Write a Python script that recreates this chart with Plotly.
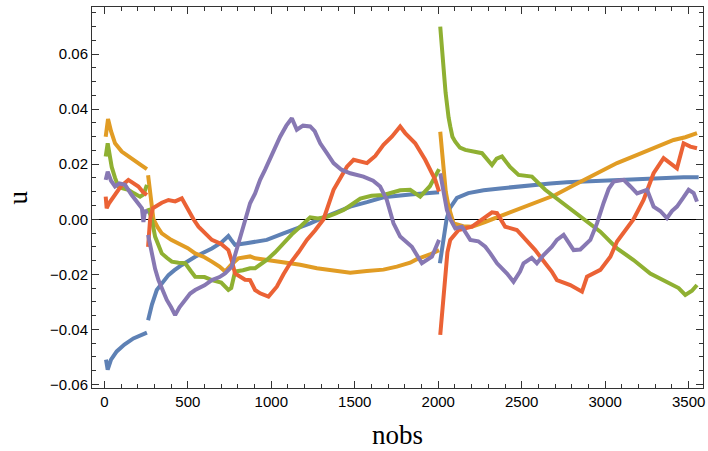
import plotly.graph_objects as go

# ---- data (None separates restart segments) ----
n_blue = [10, 20, 40, 74, 120, 174, 255, None,
          262, 285, 314, 350, 384, 420, 464, 544, 644, 700, 743, 760, 783, 850, 903, 973,
          1073, 1150, 1233, 1300, 1373, 1473, 1573, 1672, 1832, 1920, 2005, None,
          2010, 2030, 2050, 2070, 2112, 2180, 2272, 2370, 2471, 2571, 2671, 2770, 2870, 2970,
          3071, 3170, 3270, 3370, 3470, 3560]
u_blue = [-0.051, -0.0546, -0.051, -0.048, -0.0455, -0.0433, -0.0412, None,
          -0.0367, -0.031, -0.0257, -0.023, -0.0203, -0.0185, -0.0166, -0.0136, -0.0106, -0.0085,
          -0.0061, -0.0075, -0.0093, -0.0087, -0.0081, -0.0075,
          -0.0051, -0.0035, -0.0015, 0.0003, 0.0022, 0.0046, 0.0062, 0.0080, 0.0090, 0.0094, 0.0098, None,
          -0.016, -0.008, 0.0, 0.004, 0.0078, 0.0095, 0.0105, 0.0112, 0.0119, 0.0125, 0.0130, 0.0134,
          0.0137, 0.0140, 0.0143, 0.0146, 0.0149, 0.0151, 0.0153, 0.0153]

n_orange = [8, 15, 22, 40, 64, 104, 150, 184, 220, 255, None,
            262, 274, 294, 320, 344, 400, 444, 500, 544, 600, 644, 690, 723, 760, 803, 873, 903,
            973, 1073, 1173, 1273, 1373, 1473, 1572, 1672, 1752, 1832, 1872, 1950, 2005, None,
            2012, 2022, 2032, 2045, 2062, 2092, 2150, 2202, 2280, 2361, 2430, 2501, 2600, 2701,
            2800, 2871, 2970, 3071, 3170, 3270, 3340, 3410, 3480, 3550]
u_orange = [0.030, 0.0345, 0.0364, 0.032, 0.0276, 0.0246, 0.0225, 0.0210, 0.0197, 0.0182, None,
            0.016, 0.0107, 0.0, -0.003, -0.0051, -0.0075, -0.0087, -0.0105, -0.0124, -0.0138,
            -0.0154, -0.0172, -0.0190, -0.0165, -0.0142, -0.0135, -0.0142,
            -0.0148, -0.0154, -0.0165, -0.0178, -0.0185, -0.0194, -0.0188, -0.0183, -0.0172,
            -0.0158, -0.0145, -0.0128, -0.0112, None,
            0.0318, 0.024, 0.0167, 0.010, 0.0046, -0.0015, -0.0025, -0.0027, -0.001, 0.0009,
            0.0025, 0.004, 0.0065, 0.0088, 0.012, 0.0143, 0.0172, 0.0204, 0.0228, 0.0252,
            0.0270, 0.0288, 0.0298, 0.0313]

n_green = [8, 15, 20, 30, 44, 64, 84, 110, 144, 175, 214, 235, 255, None,
           262, 284, 304, 324, 344, 374, 404, 444, 484, 520, 544, 600, 644, 700, 743, 760, 783,
           830, 873, 903, 973, 1023, 1073, 1123, 1173, 1233, 1280, 1333, 1383, 1433, 1473, 1533,
           1600, 1672, 1772, 1832, 1892, 1950, 2005, None,
           2012, 2017, 2022, 2030, 2036, 2044, 2052, 2062, 2072, 2085, 2102, 2130, 2162, 2210,
           2262, 2322, 2350, 2382, 2430, 2481, 2561, 2641, 2700, 2771, 2871, 2971, 3071, 3170,
           3270, 3370, 3440, 3480, 3520, 3550]
u_green = [0.0228, 0.026, 0.0276, 0.024, 0.019, 0.015, 0.0119, 0.0112, 0.0107, 0.0095, 0.0082,
           0.009, 0.0125, None,
           0.004, 0.0, -0.0063, -0.0095, -0.0124, -0.014, -0.0154, -0.0158, -0.016, -0.019,
           -0.0209, -0.021, -0.0221, -0.023, -0.0257, -0.025, -0.019,
           -0.0185, -0.0178, -0.0178, -0.0148, -0.012, -0.0087, -0.0055, -0.0027, 0.0007,
           0.0003, 0.0009, 0.002, 0.0034, 0.005, 0.0075,
           0.0085, 0.0088, 0.0105, 0.0107, 0.0082, 0.012, 0.0182, None,
           0.070, 0.065, 0.060, 0.055, 0.0519, 0.046, 0.041, 0.037, 0.0337, 0.030, 0.0282,
           0.026, 0.0252, 0.0245, 0.024, 0.0197, 0.022, 0.0228, 0.019, 0.0161, 0.0155, 0.0107,
           0.008, 0.005, 0.0004, -0.0045, -0.0106, -0.0148, -0.0197, -0.0227, -0.025, -0.0275,
           -0.026, -0.0239]

n_red = [8, 14, 30, 64, 100, 144, 175, 204, 230, 255, None,
         262, 268, 274, 290, 304, 344, 384, 424, 464, 504, 534, 564, 600, 644, 700, 743, 763,
         783, 843, 873, 903, 933, 983, 1033, 1073, 1113, 1163, 1213, 1263, 1313, 1373, 1413,
         1453, 1493, 1533, 1573, 1623, 1672, 1722, 1772, 1802, 1862, 1922, 1982, 2005, None,
         2012, 2020, 2026, 2034, 2042, 2055, 2072, 2122, 2202, 2260, 2322, 2352, 2401, 2471,
         2530, 2581, 2641, 2680, 2711, 2791, 2861, 2891, 2971, 3031, 3071, 3120, 3170, 3230,
         3290, 3350, 3430, 3470, 3510, 3550]
u_red = [0.0082, 0.004, 0.006, 0.0088, 0.012, 0.0143, 0.013, 0.0119, 0.010, 0.0088, None,
         -0.010, -0.005, 0.0, 0.004, 0.0046, 0.006, 0.007, 0.0065, 0.0076, 0.0028, 0.0,
         -0.0027, -0.005, -0.0075, -0.009, -0.0112, -0.015,
         -0.0197, -0.022, -0.0221, -0.0257, -0.0269, -0.0281, -0.0245, -0.020, -0.016, -0.012,
         -0.0075, -0.004, 0.0, 0.0107, 0.015,
         0.0191, 0.0216, 0.021, 0.0204, 0.023, 0.027, 0.030, 0.0337, 0.0313, 0.0276, 0.0216,
         0.0143, 0.010, None,
         -0.042, -0.036, -0.0318, -0.025, -0.0184, -0.012, -0.0075, -0.0039, -0.0027, 0.0,
         0.0025, 0.0022, -0.0027, -0.0039,
         -0.008, -0.0112, -0.016, -0.019, -0.0221, -0.0239, -0.0263, -0.0209, -0.0184,
         -0.0136, -0.0081, -0.004, 0.0, 0.007,
         0.0167, 0.0222, 0.0185, 0.0276, 0.0264, 0.0258]

n_purple = [8, 20, 40, 64, 90, 124, 164, 204, 225, 234, 244, 255, None,
            262, 284, 304, 324, 350, 374, 400, 424, 450, 484, 514, 544, 600, 644, 690, 723, 763,
            783, 803, 823, 843, 873, 903, 933, 963, 993, 1023, 1053, 1090, 1123, 1153, 1190,
            1233, 1260, 1293, 1333, 1373, 1420, 1473, 1552, 1610, 1652, 1692, 1732, 1772, 1842,
            1902, 1962, 2005, None,
            2012, 2030, 2052, 2072, 2102, 2142, 2192, 2240, 2282, 2312, 2352, 2412, 2451, 2490,
            2511, 2560, 2591, 2631, 2681, 2711, 2751, 2811, 2851, 2911, 2951, 2991, 3021, 3051,
            3111, 3150, 3191, 3251, 3290, 3330, 3370, 3400, 3430, 3470, 3500, 3530, 3550]
u_purple = [0.0143, 0.0173, 0.014, 0.0119, 0.013, 0.0125, 0.0088, 0.0058, 0.004, -0.001,
            0.0034, 0.002, None,
            -0.0057, -0.0124, -0.018, -0.0221, -0.026, -0.0293, -0.032, -0.0348, -0.032,
            -0.0293, -0.027, -0.0257, -0.024, -0.0221, -0.021, -0.0197, -0.0172,
            -0.013, -0.0087, -0.004, 0.0, 0.0058, 0.0094, 0.0143, 0.018, 0.0216, 0.026, 0.030,
            0.034, 0.0367, 0.0325, 0.034,
            0.0337, 0.032, 0.0276, 0.024, 0.0204, 0.018, 0.0167, 0.0155, 0.014, 0.0119, 0.007,
            -0.0015, -0.0063, -0.010,
            -0.016, -0.0136, -0.0075, None,
            0.0167, 0.010, 0.0034, 0.0, -0.0033, -0.0027, -0.0075, -0.008, -0.010, -0.0124,
            -0.016, -0.0197, -0.0227, -0.019,
            -0.016, -0.014, -0.016, -0.013, -0.010, -0.0075, -0.0057, -0.0112, -0.011, -0.0075,
            -0.0015, 0.006, 0.011, 0.0137,
            0.0143, 0.012, 0.0094, 0.0107, 0.0046, 0.003, 0.0004, 0.003, 0.0046, 0.008, 0.0107,
            0.0095, 0.0064]

x_ticks = [0, 500, 1000, 1500, 2000, 2500, 3000, 3500]
y_ticks = [-0.06, -0.04, -0.02, 0.00, 0.02, 0.04, 0.06]
x_title = "nobs"
y_title = "u"

series = [
    ("blue", n_blue, u_blue, "#5E81B5"),
    ("orange", n_orange, u_orange, "#E19C24"),
    ("green", n_green, u_green, "#8FB032"),
    ("red", n_red, u_red, "#EB6235"),
    ("purple", n_purple, u_purple, "#8778B3"),
]

fig = go.Figure()
for name, xs, ys, col in series:
    fig.add_trace(go.Scatter(x=xs, y=ys, mode="lines", name=name,
                             line=dict(color=col, width=4), showlegend=False))

frame = "#333333"
tickfont = dict(family="Liberation Sans, Arial, sans-serif", size=15, color="black")
title_font = dict(family="Liberation Serif, Times New Roman, serif", size=27, color="black")

fig.update_layout(
    width=708, height=451,
    margin=dict(l=92, r=5, t=7, b=63),
    paper_bgcolor="white", plot_bgcolor="white",
    xaxis=dict(
        range=[-74, 3586], tickvals=x_ticks, tickformat="d", automargin=False,
        ticks="inside", ticklen=7, tickcolor=frame, tickwidth=1,
        minor=dict(dtick=100, tick0=0, ticks="inside", ticklen=4, tickcolor=frame, showgrid=False),
        showline=True, linecolor=frame, linewidth=1, mirror="ticks",
        showgrid=False, zeroline=False, tickfont=tickfont,
    ),
    yaxis=dict(
        range=[-0.0613, 0.0771], tickvals=y_ticks, tickformat=".2f", automargin=False,
        ticks="inside", ticklen=7, tickcolor=frame, tickwidth=1,
        minor=dict(dtick=0.005, tick0=0, ticks="inside", ticklen=4, tickcolor=frame, showgrid=False),
        showline=True, linecolor=frame, linewidth=1, mirror="ticks",
        showgrid=False, zeroline=True, zerolinecolor="black", zerolinewidth=1,
        tickfont=tickfont,
    ),
    annotations=[
        dict(text=x_title, xref="paper", yref="paper", x=0.5, y=0, xanchor="center",
             yanchor="middle", yshift=-47, showarrow=False, font=title_font),
        dict(text=y_title, xref="paper", yref="paper", x=0, y=0.5, xanchor="center",
             yanchor="middle", xshift=-75, textangle=-90, showarrow=False, font=title_font),
    ],
)

fig.write_html("out.html", config={"displayModeBar": False},
               post_script="document.body.style.margin='0';")
